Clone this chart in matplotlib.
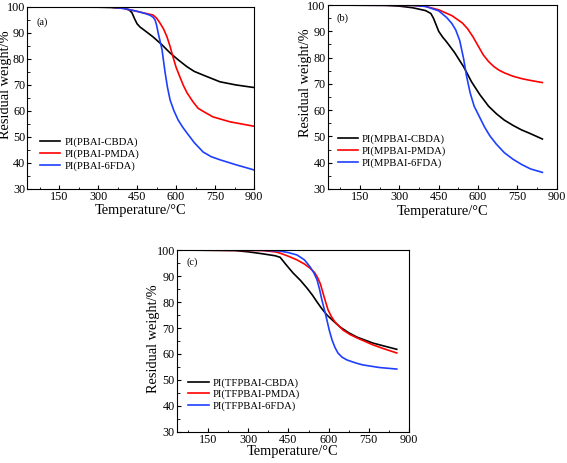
import matplotlib
matplotlib.use("Agg")
import matplotlib.pyplot as plt
from matplotlib.ticker import MultipleLocator

plt.rcParams['font.family'] = ['Liberation Serif', 'DejaVu Serif']

# (a) PI(PBAI-x)
a_cbda_t = [30, 300, 350, 400, 420, 430, 440, 450, 461, 485, 511, 545, 577, 610, 642, 670, 704, 769, 830, 900]
a_cbda_w = [100, 99.9, 99.8, 99.5, 98.8, 97.8, 95.5, 93.5, 92.3, 90.5, 88.5, 85.5, 82.3, 79.5, 77, 75.2, 73.8, 71.2, 70, 69]
a_pmda_t = [30, 350, 400, 450, 480, 511, 525, 538, 552, 565, 577, 588, 600, 615, 628, 642, 665, 685, 710, 742, 808, 900]
a_pmda_w = [100, 99.9, 99.4, 98.3, 97.6, 96.9, 95.7, 93.8, 91.5, 88.5, 84.8, 80.8, 76.8, 73, 69.8, 67, 63.5, 61, 59.5, 57.7, 55.8, 54.1]
a_6fda_t = [30, 350, 400, 450, 480, 500, 512, 519, 525, 531, 538, 546, 552, 558, 567, 577, 592, 608, 625, 642, 670, 704, 735, 769, 830, 900]
a_6fda_w = [100, 99.9, 99.4, 98.3, 97.5, 96.8, 96, 95, 93, 90, 87, 83.5, 79, 74.6, 69, 64.2, 60, 56.5, 53.8, 51.5, 47.8, 44.2, 42.4, 41.2, 39.3, 37.3]

# (b) PI(MPBAI-x)
b_cbda_t = [30, 250, 300, 350, 400, 420, 430, 440, 450, 465, 480, 510, 545, 575, 606, 640, 670, 700, 733, 765, 796, 845]
b_cbda_w = [100, 99.9, 99.6, 99, 97.9, 96.8, 95, 92.5, 90, 87.8, 86, 82, 76.5, 70.8, 66, 61.5, 58.6, 56.2, 54.2, 52.5, 51.2, 49]
b_pmda_t = [30, 350, 400, 450, 500, 540, 560, 580, 600, 620, 640, 660, 680, 700, 733, 766, 800, 845]
b_pmda_w = [100, 99.9, 99.5, 98.2, 96, 93.2, 91, 88, 84.5, 81, 78.5, 76.6, 75.2, 74.2, 72.9, 72, 71.3, 70.5]
b_6fda_t = [30, 350, 400, 450, 480, 500, 515, 530, 545, 556, 570, 585, 606, 625, 645, 670, 700, 733, 766, 800, 845]
b_6fda_w = [100, 99.9, 99.5, 97.8, 95.3, 93, 90.5, 86.5, 79.5, 73, 66.5, 61.5, 57.3, 53.5, 50.2, 47, 43.8, 41.3, 39.3, 37.6, 36.3]

# (c) PI(TFPBAI-x)
c_cbda_t = [30, 250, 300, 350, 400, 419, 440, 467, 495, 519, 540, 557, 575, 594, 620, 643, 675, 706, 766, 810, 855]
c_cbda_w = [100, 99.8, 99.3, 98.6, 97.8, 97.2, 94.5, 91.2, 88.3, 85.4, 82.6, 80, 77.4, 75, 72.5, 70.4, 68.2, 66.5, 64.2, 63, 61.8]
c_pmda_t = [30, 350, 400, 419, 450, 482, 510, 531, 548, 560, 570, 579, 589, 598, 610, 624, 654, 680, 706, 766, 810, 855]
c_pmda_w = [100, 99.8, 99.3, 98.8, 97.6, 96.2, 94.6, 93, 91.3, 89.2, 86.8, 83.5, 80, 77, 74.5, 72.3, 69.2, 67.5, 66.2, 63.5, 61.9, 60.4]
c_6fda_t = [30, 350, 419, 450, 482, 510, 531, 545, 557, 566, 575, 585, 594, 603, 613, 624, 635, 650, 669, 700, 728, 790, 855]
c_6fda_w = [100, 99.9, 99.6, 99, 98.1, 96.2, 93.5, 91.2, 88.5, 85, 80.8, 76.8, 73, 69, 65.4, 62.5, 60.4, 58.8, 57.7, 56.6, 55.8, 54.8, 54.2]

# tag, amine, axes rect, x start, ylabel pos, xlabel y, tag y, legend anchor
panels = [
    ("(a)", "PBAI", [0.048, 0.592, 0.400, 0.393], 27, (-0.066, 0.57), -0.085, 0.915, (0.057, 0.10),
     (a_cbda_t, a_cbda_w), (a_pmda_t, a_pmda_w), (a_6fda_t, a_6fda_w)),
    ("(b)", "MPBAI", [0.578, 0.592, 0.404, 0.397], 27, (-0.07, 0.58), -0.085, 0.93, (0.044, 0.115),
     (b_cbda_t, b_cbda_w), (b_pmda_t, b_pmda_w), (b_6fda_t, b_6fda_w)),
    ("(c)", "TFPBAI", [0.312, 0.067, 0.409, 0.393], 33, (-0.073, 0.51), -0.07, 0.934, (0.05, 0.115),
     (c_cbda_t, c_cbda_w), (c_pmda_t, c_pmda_w), (c_6fda_t, c_6fda_w)),
]
colors = ["black", "red", "#1f3fff"]
names = ["CBDA", "PMDA", "6FDA"]

fig = plt.figure(figsize=(5.67, 4.63), dpi=100)
for tag, amine, pos, x0, ylab, xly, tagy, leg_xy, s1, s2, s3 in panels:
    ax = fig.add_axes(pos)
    for (t, w), c, n in zip([s1, s2, s3], colors, names):
        ax.plot(t, w, color=c, lw=1.2, label="PI(%s-%s)" % (amine, n))
    ax.set_xlim(x0, 900)
    ax.set_ylim(30, 100)
    ax.set_xticks([150, 300, 450, 600, 750, 900])
    ax.xaxis.set_minor_locator(MultipleLocator(75))
    ax.set_yticks(range(30, 101, 10))
    ax.yaxis.set_minor_locator(MultipleLocator(5))
    ax.tick_params(which="both", direction="in", labelsize=8.7, pad=1.5)
    ax.tick_params(which="major", length=3)
    ax.tick_params(which="minor", length=1.8)
    ax.set_xlabel("Temperature/\u00b0C", fontsize=10.4)
    ax.set_ylabel("Residual weight/%", fontsize=10.4)
    ax.xaxis.set_label_coords(0.5, xly)
    ax.yaxis.set_label_coords(*ylab)
    ax.text(0.04, tagy, tag, transform=ax.transAxes, fontsize=7.5, va="center")
    ax.legend(loc="lower left", bbox_to_anchor=leg_xy, frameon=False,
              fontsize=7.7, handlelength=1.9, handletextpad=0.35,
              labelspacing=0.18, borderpad=0, borderaxespad=0)

fig.savefig("out.png", dpi=100)
